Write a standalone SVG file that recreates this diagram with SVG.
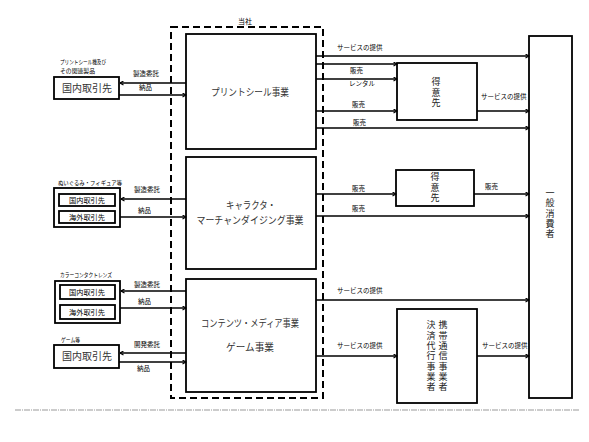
<svg xmlns="http://www.w3.org/2000/svg" width="589" height="442" viewBox="0 0 589 442">
<style>
text{font-family:"Noto Sans CJK JP","Noto Sans CJK SC",sans-serif;fill:#000}
.box{fill:#fff;stroke:#000;stroke-width:1.8}
.nt{font-size:10px;fill:#333;text-anchor:middle}
.lb{font-size:6.5px}
.cat{font-size:6px}
.big{font-size:10.5px;fill:#333;text-anchor:middle}
.sm{font-size:7px;text-anchor:middle}
.vc{font-size:9px;fill:#222;writing-mode:vertical-rl;letter-spacing:1.3px}
.ln{stroke:#000;stroke-width:1.6;fill:none}
.ar{marker-end:url(#ah)}
</style>
<defs>
<marker id="ah" viewBox="0 0 10 10" refX="9" refY="5" markerWidth="5" markerHeight="5" orient="auto" markerUnits="userSpaceOnUse">
<polyline points="2,1 9,5 2,9" fill="none" stroke="#000" stroke-width="2.2"/>
</marker>
</defs>
<rect width="589" height="442" fill="#fff"/>

<g id="company">
<rect x="171" y="27" width="152" height="371" fill="none" stroke="#000" stroke-width="2" stroke-dasharray="7 4"/>
<text x="245" y="24" class="sm" font-size="7.5">当社</text>
</g>

<g id="print">
<rect class="box" x="186" y="34" width="130" height="115"/>
<text class="nt" x="250" y="96" textLength="78" lengthAdjust="spacingAndGlyphs">プリントシール事業</text>
</g>
<g id="character">
<rect class="box" x="186" y="157" width="130" height="112"/>
<text class="nt" x="251" y="209" textLength="50" lengthAdjust="spacingAndGlyphs">キャラクタ・</text>
<text class="nt" x="250" y="224" textLength="107" lengthAdjust="spacingAndGlyphs">マーチャンダイジング事業</text>
</g>
<g id="contents">
<rect class="box" x="186" y="279" width="130" height="113"/>
<text class="nt" x="250" y="327" textLength="98" lengthAdjust="spacingAndGlyphs">コンテンツ・メディア事業</text>
<text class="nt" x="250" y="351" textLength="48" lengthAdjust="spacingAndGlyphs">ゲーム事業</text>
</g>

<g id="consumer">
<rect class="box" x="529" y="36" width="43" height="362"/>
<text class="vc" x="550" y="188" font-size="10.5" letter-spacing="1.5">一般消費者</text>
</g>

<g id="customer1">
<rect class="box" x="397" y="63" width="80" height="57"/>
<text class="vc" x="436" y="77.5" font-size="9.5" letter-spacing="1">得意先</text>
</g>
<g id="customer2">
<rect class="box" x="396" y="170" width="78" height="36"/>
<text class="vc" x="435" y="172.5" font-size="9.5" letter-spacing="1">得意先</text>
</g>
<g id="carrier">
<rect class="box" x="397" y="309" width="80" height="94"/>
<text class="vc" x="443" y="320.5">携帯通信事業者</text>
<text class="vc" x="431" y="320.5">決済代行事業者</text>
</g>

<g id="supplier-print">
<text class="cat" x="60" y="64" textLength="46" lengthAdjust="spacingAndGlyphs">プリントシール機及び</text>
<text class="cat" x="60" y="73" textLength="35" lengthAdjust="spacingAndGlyphs">その関連製品</text>
<rect class="box" x="54" y="77" width="65" height="22"/>
<text class="big" x="87" y="92" textLength="50" lengthAdjust="spacingAndGlyphs">国内取引先</text>
</g>
<g id="supplier-plush">
<text class="cat" x="58" y="185" textLength="64" lengthAdjust="spacingAndGlyphs">ぬいぐるみ・フィギュア等</text>
<rect class="box" x="54" y="188" width="66" height="39"/>
<rect class="box" x="59" y="194" width="56" height="12" stroke-width="1.5"/>
<text class="sm" x="87" y="202.5" font-size="6.5" textLength="36" lengthAdjust="spacingAndGlyphs">国内取引先</text>
<rect class="box" x="59" y="211" width="56" height="12" stroke-width="1.5"/>
<text class="sm" x="87" y="219.5" font-size="6.5" textLength="36" lengthAdjust="spacingAndGlyphs">海外取引先</text>
</g>
<g id="supplier-lens">
<text class="cat" x="60" y="277" textLength="52" lengthAdjust="spacingAndGlyphs">カラーコンタクトレンズ</text>
<rect class="box" x="55" y="281" width="65" height="42"/>
<rect class="box" x="60" y="285" width="55" height="14" stroke-width="1.5"/>
<text class="sm" x="87" y="294.5" font-size="6.5" textLength="36" lengthAdjust="spacingAndGlyphs">国内取引先</text>
<rect class="box" x="60" y="305" width="55" height="14" stroke-width="1.5"/>
<text class="sm" x="87" y="314.5" font-size="6.5" textLength="36" lengthAdjust="spacingAndGlyphs">海外取引先</text>
</g>
<g id="supplier-game">
<text class="cat" x="61" y="342" textLength="19" lengthAdjust="spacingAndGlyphs">ゲーム等</text>
<rect class="box" x="54" y="345" width="65" height="23"/>
<text class="big" x="87" y="360" textLength="50" lengthAdjust="spacingAndGlyphs">国内取引先</text>
</g>

<g id="connectors">
<line class="ln ar" x1="186" y1="83" x2="120" y2="83"/>
<line class="ln ar" x1="119" y1="95" x2="186" y2="95"/>
<text class="lb" x="133" y="76">製造委託</text>
<text class="lb" x="139" y="90">納品</text>

<line class="ln ar" x1="186" y1="199" x2="121" y2="199"/>
<line class="ln ar" x1="120" y1="217" x2="186" y2="217"/>
<text class="lb" x="134" y="192">製造委託</text>
<text class="lb" x="138" y="213">納品</text>

<line class="ln ar" x1="186" y1="291" x2="121" y2="291"/>
<line class="ln ar" x1="120" y1="308" x2="186" y2="308"/>
<text class="lb" x="134" y="287">製造委託</text>
<text class="lb" x="138" y="304">納品</text>

<line class="ln ar" x1="186" y1="353" x2="120" y2="353"/>
<line class="ln ar" x1="119" y1="362" x2="186" y2="362"/>
<text class="lb" x="134" y="347">開発委託</text>
<text class="lb" x="137" y="371">納品</text>

<line class="ln ar" x1="316" y1="56" x2="529" y2="56"/>
<text class="lb" x="337" y="50">サービスの提供</text>
<line class="ln ar" x1="316" y1="64" x2="397" y2="64"/>
<text class="lb" x="350" y="73">販売</text>
<line class="ln ar" x1="316" y1="79" x2="397" y2="79"/>
<text class="lb" x="349" y="86">レンタル</text>
<line class="ln ar" x1="316" y1="111" x2="397" y2="111"/>
<text class="lb" x="352" y="107">販売</text>
<line class="ln ar" x1="316" y1="128" x2="529" y2="128"/>
<text class="lb" x="353" y="125">販売</text>
<line class="ln ar" x1="477" y1="111" x2="529" y2="111"/>
<text class="lb" x="481" y="99">サービスの提供</text>

<line class="ln ar" x1="316" y1="194" x2="396" y2="194"/>
<text class="lb" x="352" y="191">販売</text>
<line class="ln ar" x1="474" y1="194" x2="529" y2="194"/>
<text class="lb" x="485" y="189">販売</text>
<line class="ln ar" x1="316" y1="216" x2="529" y2="216"/>
<text class="lb" x="352" y="211">販売</text>

<line class="ln ar" x1="316" y1="300" x2="529" y2="300"/>
<text class="lb" x="337" y="293">サービスの提供</text>
<line class="ln ar" x1="316" y1="356" x2="397" y2="356"/>
<text class="lb" x="337" y="348">サービスの提供</text>
<line class="ln ar" x1="477" y1="356" x2="529" y2="356"/>
<text class="lb" x="482" y="348">サービスの提供</text>
</g>

<line x1="15" y1="410" x2="580" y2="410" stroke="#999" stroke-width="1.2" stroke-dasharray="6 1 1 1"/>
</svg>
